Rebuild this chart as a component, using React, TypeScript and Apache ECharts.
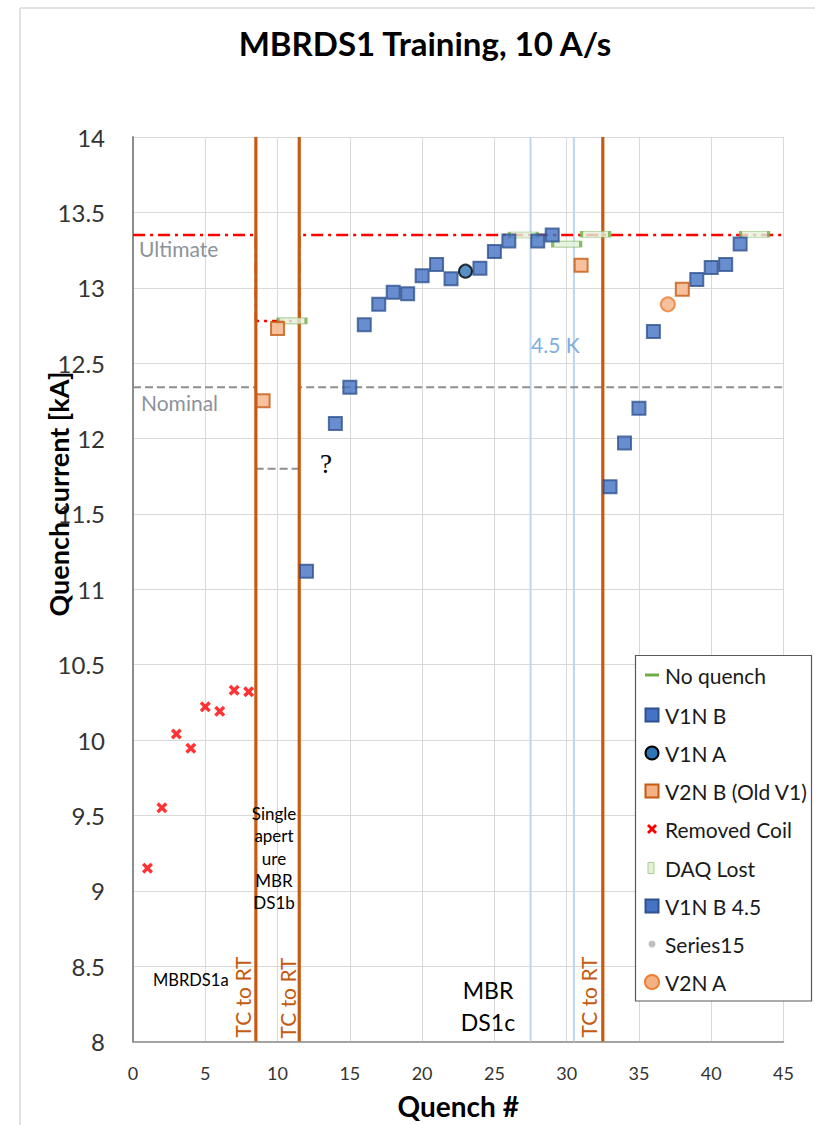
import React, { useEffect, useRef } from "react";
import * as echarts from "echarts";

// ---- data ----
const noQuenchX = [11, 27, 30, 32, 43];
const noQuenchY = [12.78, 13.35, 13.29, 13.355, 13.355];
const v1nBX = [12, 14, 15, 16, 17, 18, 19, 20, 21, 22, 24, 25, 26, 33, 34, 35, 36, 39, 40, 41, 42];
const v1nBY = [11.12, 12.1, 12.34, 12.755, 12.89, 12.97, 12.96, 13.08, 13.155, 13.06, 13.13, 13.24, 13.31, 11.68, 11.97, 12.2, 12.71, 13.055, 13.135, 13.155, 13.29];
const v1nAX = [23];
const v1nAY = [13.11];
const v2nBX = [9, 10, 31, 38];
const v2nBY = [12.25, 12.73, 13.15, 12.99];
const removedX = [1, 2, 3, 4, 5, 6, 7, 8];
const removedY = [9.15, 9.55, 10.04, 9.945, 10.22, 10.19, 10.33, 10.32];
const daqLostX: number[] = [];
const daqLostY: number[] = [];
const v1nB45X = [28, 29];
const v1nB45Y = [13.31, 13.35];
const series15X: number[] = [];
const series15Y: number[] = [];
const v2nAX = [37];
const v2nAY = [12.89];

const ultimateX = [0, 8.5, 8.5, 11.5, 11.5, 45];
const ultimateY = [13.35, 13.35, 12.78, 12.78, 13.35, 13.35];
const nominalX = [0, 8.5, 8.5, 11.5, 11.5, 45];
const nominalY = [12.34, 12.34, 11.8, 11.8, 12.34, 12.34];
const tcToRtX = [8.5, 11.5, 32.5];
const lowTempX = [27.5, 30.5];
const yRange = [8, 14];
const xRange = [0, 45];

const legendNames = [
  "No quench",
  "V1N B",
  "V1N A",
  "V2N B (Old V1)",
  "Removed Coil",
  "DAQ Lost",
  "V1N B 4.5",
  "Series15",
  "V2N A",
];

const zip = (xs: number[], ys: number[]) => xs.map((x, i) => [x, ys[i]]);

const FONT = "Lato";
const X_MARK = "path://M0,2.2L2.2,0L5,2.8L7.8,0L10,2.2L7.2,5L10,7.8L7.8,10L5,7.2L2.2,10L0,7.8L2.8,5Z";

export default function App() {
  const ref = useRef<HTMLDivElement>(null);

  useEffect(() => {
    if (!ref.current) return;
    const chart = echarts.init(ref.current, null, { renderer: "svg" });

    const sqBlue = { color: "#4472C4", borderColor: "#2F528F", borderWidth: 2 };
    const sqOrange = { color: "#F4B183", borderColor: "#C55A11", borderWidth: 2 };

    const series: any[] = [];
    lowTempX.forEach((x) =>
      series.push({
        type: "line",
        data: yRange.map((y) => [x, y]),
        symbol: "none",
        silent: true,
        z: 1,
        lineStyle: { color: "#BDD7EE", width: 2 },
      })
    );
    series.push({
      name: "Ultimate",
      type: "line",
      data: zip(ultimateX, ultimateY),
      symbol: "none",
      silent: true,
      z: 2,
      lineStyle: { color: "#FF0000", width: 2.5, type: [12, 5, 3, 5] },
    });
    series.push({
      name: "Nominal",
      type: "line",
      data: zip(nominalX, nominalY),
      symbol: "none",
      silent: true,
      z: 2,
      lineStyle: { color: "#8F8F8F", width: 2, type: [8, 4] },
    });
    tcToRtX.forEach((x) =>
      series.push({
        type: "line",
        data: yRange.map((y) => [x, y]),
        symbol: "none",
        silent: true,
        z: 3,
        lineStyle: { color: "#C55A11", width: 3.2 },
      })
    );
    series.push(
      {
        name: legendNames[0],
        type: "scatter",
        data: zip(noQuenchX, noQuenchY),
        symbol: "rect",
        symbolSize: [28, 6],
        z: 5,
        itemStyle: { color: "#E2F0D9", borderColor: "#70AD47", borderWidth: 1.5 },
      },
      {
        name: legendNames[1],
        type: "scatter",
        data: zip(v1nBX, v1nBY),
        symbol: "rect",
        symbolSize: 13,
        z: 5,
        itemStyle: sqBlue,
      },
      {
        name: legendNames[2],
        type: "scatter",
        data: zip(v1nAX, v1nAY),
        symbol: "circle",
        symbolSize: 13,
        z: 5,
        itemStyle: { color: "#2E75B6", borderColor: "#000000", borderWidth: 2 },
      },
      {
        name: legendNames[3],
        type: "scatter",
        data: zip(v2nBX, v2nBY),
        symbol: "rect",
        symbolSize: 13,
        z: 5,
        itemStyle: sqOrange,
      },
      {
        name: legendNames[4],
        type: "scatter",
        data: zip(removedX, removedY),
        symbol: X_MARK,
        symbolSize: 11,
        z: 5,
        itemStyle: { color: "#FF0000" },
      },
      {
        name: legendNames[5],
        type: "scatter",
        data: zip(daqLostX, daqLostY),
        symbol: "rect",
        symbolSize: [6, 11],
        z: 5,
        itemStyle: { color: "#E2F0D9", borderColor: "#A9D18E", borderWidth: 1 },
      },
      {
        name: legendNames[6],
        type: "scatter",
        data: zip(v1nB45X, v1nB45Y),
        symbol: "rect",
        symbolSize: 13,
        z: 5,
        itemStyle: sqBlue,
      },
      {
        name: legendNames[7],
        type: "scatter",
        data: zip(series15X, series15Y),
        symbol: "circle",
        symbolSize: 7,
        z: 5,
        itemStyle: { color: "#BFBFBF" },
      },
      {
        name: legendNames[8],
        type: "scatter",
        data: zip(v2nAX, v2nAY),
        symbol: "circle",
        symbolSize: 14,
        z: 5,
        itemStyle: { color: "#F4B183", borderColor: "#ED7D31", borderWidth: 2 },
      }
    );

    // legend drawn manually (Excel style)
    const legX = 635.5;
    const legY = 655.5;
    const rowY = [675, 715, 753, 791, 829, 868, 906, 944, 982];
    const iconX = 652;
    const legendIcons: any[] = [
      { type: "rect", shape: { x: iconX - 7, y: rowY[0] - 1.5, width: 14, height: 3 }, style: { fill: "#70AD47" } },
      { type: "rect", shape: { x: iconX - 6.5, y: rowY[1] - 6.5, width: 13, height: 13 }, style: { fill: "#4472C4", stroke: "#2F528F", lineWidth: 2 } },
      { type: "circle", shape: { cx: iconX, cy: rowY[2], r: 6.5 }, style: { fill: "#2E75B6", stroke: "#000", lineWidth: 2 } },
      { type: "rect", shape: { x: iconX - 6.5, y: rowY[3] - 6.5, width: 13, height: 13 }, style: { fill: "#F4B183", stroke: "#C55A11", lineWidth: 2 } },
      { type: "line", shape: { x1: iconX - 4, y1: rowY[4] - 4, x2: iconX + 4, y2: rowY[4] + 4 }, style: { stroke: "#FF0000", lineWidth: 2.8 } },
      { type: "line", shape: { x1: iconX + 4, y1: rowY[4] - 4, x2: iconX - 4, y2: rowY[4] + 4 }, style: { stroke: "#FF0000", lineWidth: 2.8 } },
      { type: "rect", shape: { x: iconX - 4, y: rowY[5] - 5.5, width: 6, height: 11 }, style: { fill: "#E2F0D9", stroke: "#A9D18E", lineWidth: 1 } },
      { type: "rect", shape: { x: iconX - 6.5, y: rowY[6] - 6.5, width: 13, height: 13 }, style: { fill: "#4472C4", stroke: "#2F528F", lineWidth: 2 } },
      { type: "circle", shape: { cx: iconX, cy: rowY[7], r: 3.5 }, style: { fill: "#BFBFBF" } },
      { type: "circle", shape: { cx: iconX, cy: rowY[8], r: 7 }, style: { fill: "#F4B183", stroke: "#ED7D31", lineWidth: 2 } },
    ];
    const legendTexts = legendNames.map((n, i) => ({
      type: "text",
      x: 665,
      y: rowY[i],
      style: { text: n, font: `21px ${FONT}`, fill: "#1a1a1a", textVerticalAlign: "middle" },
    }));

    const annot = (text: string, x: number, y: number, size: number, color: string, extra: any = {}) => ({
      type: "text",
      x,
      y,
      z: 100,
      ...extra,
      style: {
        text,
        font: `${size}px ${extra.family || FONT}`,
        fill: color,
        textAlign: extra.align || "left",
        textVerticalAlign: "middle",
        lineHeight: extra.lh,
      },
    });

    const graphic: any[] = [
      { type: "line", shape: { x1: 20, y1: 8, x2: 20, y2: 1125 }, style: { stroke: "#D9D9D9", lineWidth: 1.5 } },
      { type: "line", shape: { x1: 20, y1: 8, x2: 815, y2: 8 }, style: { stroke: "#D9D9D9", lineWidth: 1.5 } },
      {
        type: "text",
        x: 58,
        y: 494,
        rotation: Math.PI / 2,
        z: 100,
        style: { text: "Quench current [kA]", font: `bold 27px ${FONT}`, fill: "#000", textAlign: "center", textVerticalAlign: "middle" },
      },
      annot("Ultimate", 139, 248, 21, "#8D939B"),
      annot("Nominal", 141, 402, 21, "#8D939B"),
      annot("?", 320, 464, 27, "#000", { family: "'Liberation Serif'" }),
      annot("4.5 K", 531, 344, 21, "#7FAEDF"),
      annot("MBRDS1a", 153, 980, 16.5, "#000"),
      annot("Single\napert\nure\nMBR\nDS1b", 274, 858, 17, "#000", { align: "center", lh: 22.3 }),
      annot("MBR\nDS1c", 488, 1006, 23, "#000", { align: "center", lh: 32 }),
      annot("TC to RT", 242, 997, 21, "#C55A11", { rotation: Math.PI / 2, align: "center" }),
      annot("TC to RT", 287.5, 998, 21, "#C55A11", { rotation: Math.PI / 2, align: "center" }),
      annot("TC to RT", 588.5, 997, 21, "#C55A11", { rotation: Math.PI / 2, align: "center" }),
      {
        type: "rect",
        z: 110,
        shape: { x: legX, y: legY, width: 176, height: 345.5 },
        style: { fill: "#fff", stroke: "#595959", lineWidth: 1.2 },
      },
      ...legendIcons.map((g) => ({ ...g, z: 111 })),
      ...legendTexts.map((g) => ({ ...g, z: 111 })),
    ];

    chart.setOption({
      animation: false,
      backgroundColor: "#fff",
      textStyle: { fontFamily: FONT },
      title: {
        text: "MBRDS1 Training, 10 A/s",
        left: 425,
        top: 26,
        padding: 0,
        textAlign: "center",
        textStyle: { fontSize: 33, fontWeight: "bold", color: "#000", fontFamily: FONT },
      },
      grid: { left: 133, right: 31.5, top: 137, bottom: 83.5, outerBoundsMode: "none", containLabel: false },
      xAxis: {
        type: "value",
        min: xRange[0],
        max: xRange[1],
        interval: 5,
        name: "Quench #",
        nameLocation: "middle",
        nameGap: 50,
        nameTextStyle: { fontSize: 28, fontWeight: "bold", color: "#000", fontFamily: FONT },
        axisLine: { show: true, lineStyle: { color: "#8C8C8C", width: 1.5 } },
        axisTick: { show: false },
        splitLine: { show: true, lineStyle: { color: "#D9D9D9", width: 1 } },
        axisLabel: { fontSize: 18, color: "#333", margin: 22, fontFamily: FONT },
      },
      yAxis: {
        type: "value",
        min: yRange[0],
        max: yRange[1],
        interval: 0.5,
        axisLine: { show: true, lineStyle: { color: "#8C8C8C", width: 2 } },
        axisTick: { show: false },
        splitLine: { show: true, lineStyle: { color: "#D9D9D9", width: 1 } },
        axisLabel: { fontSize: 24, color: "#333", margin: 28, fontFamily: FONT },
      },
      series,
      graphic,
    });

    return () => chart.dispose();
  }, []);

  return (
    <div
      ref={ref}
      style={{ position: "fixed", left: 0, top: 0, width: 815, height: 1125, background: "#fff" }}
    />
  );
}
